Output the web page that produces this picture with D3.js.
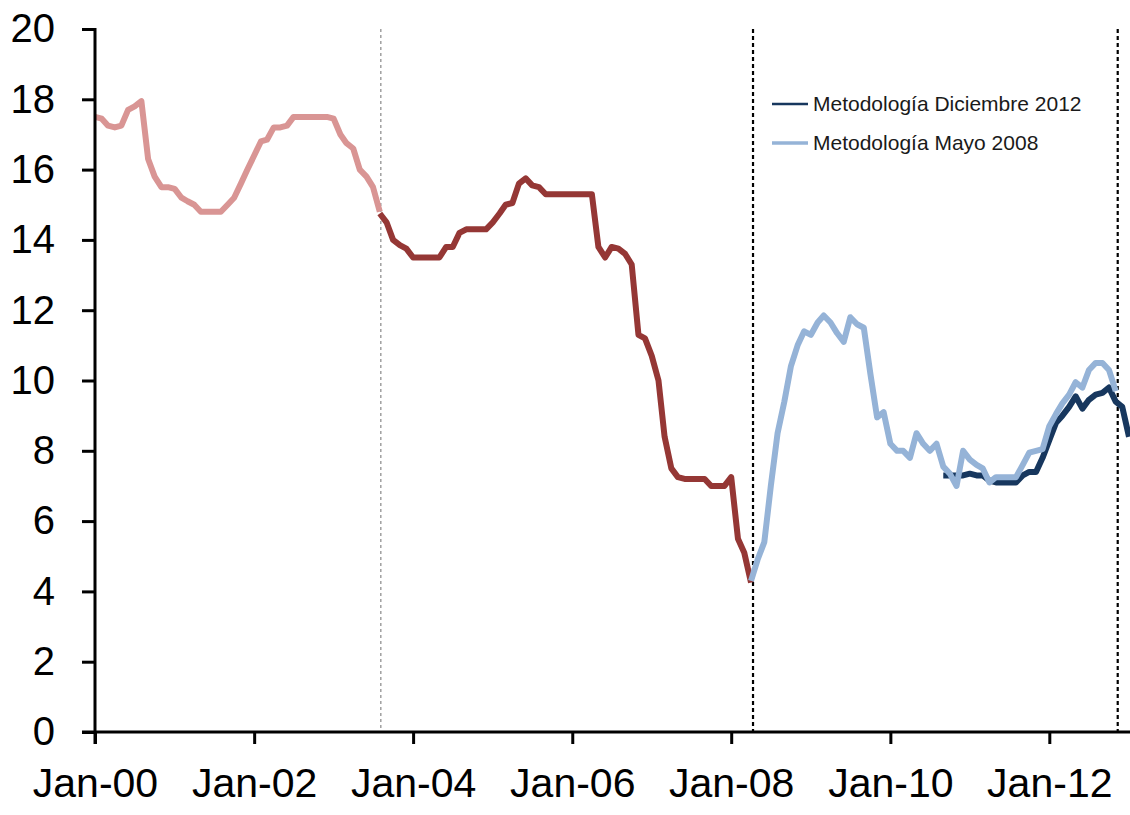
<!DOCTYPE html>
<html>
<head>
<meta charset="utf-8">
<script src="https://cdn.jsdelivr.net/npm/d3@7"></script>
<style>
  html, body { margin: 0; padding: 0; background: #fff; }
  svg { display: block; }
</style>
</head>
<body>
<svg id="chart" width="1130" height="815"></svg>
<script>
// Monthly values, each series listed from its first month onwards
const serieTramo1Inicio = "2000-01";
const serieTramo1 = [17.5, 17.45, 17.25, 17.2, 17.25, 17.7, 17.8, 17.95, 16.3, 15.8, 15.5, 15.5,
  15.45, 15.2, 15.1, 15.0, 14.8, 14.8, 14.8, 14.8, 15.0, 15.2, 15.6, 16.0,
  16.4, 16.8, 16.85, 17.2, 17.2, 17.25, 17.5, 17.5, 17.5, 17.5, 17.5, 17.5,
  17.45, 17.0, 16.75, 16.6, 16.0, 15.8, 15.5, 14.8];

const serieTramo2Inicio = "2003-08";
const serieTramo2 = [14.75, 14.5, 14.0, 13.85, 13.75,
  13.5, 13.5, 13.5, 13.5, 13.5, 13.8, 13.8, 14.2, 14.3, 14.3, 14.3, 14.3,
  14.5, 14.75, 15.0, 15.05, 15.6, 15.75, 15.55, 15.5, 15.3, 15.3, 15.3, 15.3,
  15.3, 15.3, 15.3, 15.3, 13.8, 13.5, 13.8, 13.75, 13.6, 13.3, 11.3, 11.2,
  10.7, 10.0, 8.4, 7.5, 7.25, 7.2, 7.2, 7.2, 7.2, 7.0, 7.0, 7.0,
  7.25, 5.5, 5.1, 4.25];

const serieMayo2008Inicio = "2008-04";
const serieMayo2008 = [4.3, 4.9, 5.4, 7.0, 8.5, 9.4, 10.4, 11.0, 11.4,
  11.3, 11.65, 11.85, 11.65, 11.35, 11.1, 11.8, 11.6, 11.5, 10.2, 8.95, 9.1,
  8.2, 8.0, 8.0, 7.8, 8.5, 8.2, 8.0, 8.2, 7.55, 7.35, 7.0, 8.0,
  7.75, 7.6, 7.5, 7.1, 7.25, 7.25, 7.25, 7.25, 7.6, 7.95, 8.0, 8.05,
  8.7, 9.05, 9.35, 9.6, 9.95, 9.8, 10.3, 10.5, 10.5, 10.3, 9.7];

const serieDic2012Inicio = "2010-09";
const serieDic2012 = [7.3, 7.3, 7.3, 7.3,
  7.35, 7.3, 7.3, 7.15, 7.1, 7.1, 7.1, 7.1, 7.3, 7.4, 7.4, 7.8,
  8.3, 8.8, 9.0, 9.25, 9.55, 9.2, 9.45, 9.6, 9.65, 9.8, 9.4, 9.25,
  8.4];

// Vertical reference lines (methodology changes)
const cortesGris = ["2003-08"];
const cortesNegros = ["2008-04", "2012-11"];

// Axis ticks
const yTicks = [0, 2, 4, 6, 8, 10, 12, 14, 16, 18, 20];
const xTickFechas = ["2000-01", "2002-01", "2004-01", "2006-01", "2008-01", "2010-01", "2012-01"];
const xTickEtiquetas = ["Jan-00", "Jan-02", "Jan-04", "Jan-06", "Jan-08", "Jan-10", "Jan-12"];

// Legend entries
const leyendaTextos = ["Metodología Diciembre 2012", "Metodología Mayo 2008"];

const parseMes = d3.timeParse("%Y-%m");

function aPuntos(inicio, valores) {
  const t0 = parseMes(inicio);
  return valores.map((v, i) => ({ fecha: d3.timeMonth.offset(t0, i), valor: v }));
}

const svg = d3.select("#chart");
const plotLeft = 95, plotRight = 1129, plotTop = 29, plotBottom = 732;

const x = d3.scaleTime()
  .domain([parseMes("2000-01"), parseMes("2013-01")])
  .range([plotLeft, plotRight]);
const y = d3.scaleLinear().domain([0, 20]).range([plotBottom, plotTop]);

const fuente = "'Liberation Sans', Arial, sans-serif";

// Reference lines
svg.selectAll("line.corte-gris").data(cortesGris).join("line")
  .attr("class", "corte-gris")
  .attr("x1", d => x(parseMes(d)) + 1).attr("x2", d => x(parseMes(d)) + 1)
  .attr("y1", y(20)).attr("y2", y(0))
  .attr("stroke", "#a0a0a0").attr("stroke-width", 1.5)
  .attr("stroke-dasharray", "3,3");

svg.selectAll("line.corte-negro").data(cortesNegros).join("line")
  .attr("class", "corte-negro")
  .attr("x1", d => x(parseMes(d)) + 2).attr("x2", d => x(parseMes(d)) + 2)
  .attr("y1", y(20)).attr("y2", y(0))
  .attr("stroke", "#000").attr("stroke-width", 2.2)
  .attr("stroke-dasharray", "4,3");

// Series lines
const linea = d3.line().x(d => x(d.fecha)).y(d => y(d.valor));
const series = [
  { datos: aPuntos(serieTramo1Inicio, serieTramo1), color: "#d99594" },
  { datos: aPuntos(serieTramo2Inicio, serieTramo2), color: "#953735" },
  { datos: aPuntos(serieDic2012Inicio, serieDic2012), color: "#17375e" },
  { datos: aPuntos(serieMayo2008Inicio, serieMayo2008), color: "#95b3d7" }
];
svg.selectAll("path.serie").data(series).join("path")
  .attr("class", "serie")
  .attr("d", d => linea(d.datos))
  .attr("fill", "none")
  .attr("stroke", d => d.color)
  .attr("stroke-width", 6)
  .attr("stroke-linejoin", "round");

// Y axis
const yAxis = svg.append("g").attr("transform", `translate(${plotLeft},0)`)
  .call(d3.axisLeft(y).tickValues(yTicks).tickSize(13).tickPadding(27).tickSizeOuter(0));
yAxis.select(".domain").attr("stroke", "#000").attr("stroke-width", 3)
  .attr("d", `M0,${plotTop - 1}V${plotBottom + 12}`);
yAxis.selectAll(".tick line").attr("stroke", "#000").attr("stroke-width", 3);
yAxis.selectAll(".tick text").attr("font-family", fuente).attr("font-size", 40)
  .attr("fill", "#000");

// X axis
const xAxis = svg.append("g").attr("transform", `translate(0,${plotBottom})`)
  .call(d3.axisBottom(x).tickValues(xTickFechas.map(parseMes))
    .tickFormat((d, i) => xTickEtiquetas[i]).tickSize(12).tickPadding(24).tickSizeOuter(0));
xAxis.select(".domain").attr("stroke", "#000").attr("stroke-width", 3)
  .attr("d", `M${plotLeft - 13},0H1130`);
xAxis.selectAll(".tick line").attr("stroke", "#000").attr("stroke-width", 3);
xAxis.selectAll(".tick text").attr("font-family", fuente).attr("font-size", 41)
  .attr("fill", "#000");

// Legend
const leyenda = svg.append("g").attr("transform", "translate(772,104)");
const leyendaColores = ["#17375e", "#95b3d7"];
const fila = leyenda.selectAll("g").data(leyendaTextos).join("g")
  .attr("transform", (d, i) => `translate(0,${i * 39})`);
fila.append("line").attr("x1", 0).attr("x2", 36).attr("y1", 0).attr("y2", 0)
  .attr("stroke", (d, i) => leyendaColores[i]).attr("stroke-width", (d, i) => i === 0 ? 2.5 : 3.5);
fila.append("text").attr("x", 41).attr("y", 0).attr("dy", "0.35em")
  .attr("font-family", fuente).attr("font-size", 21).attr("fill", "#1a1a1a")
  .text(d => d);
</script>
</body>
</html>
